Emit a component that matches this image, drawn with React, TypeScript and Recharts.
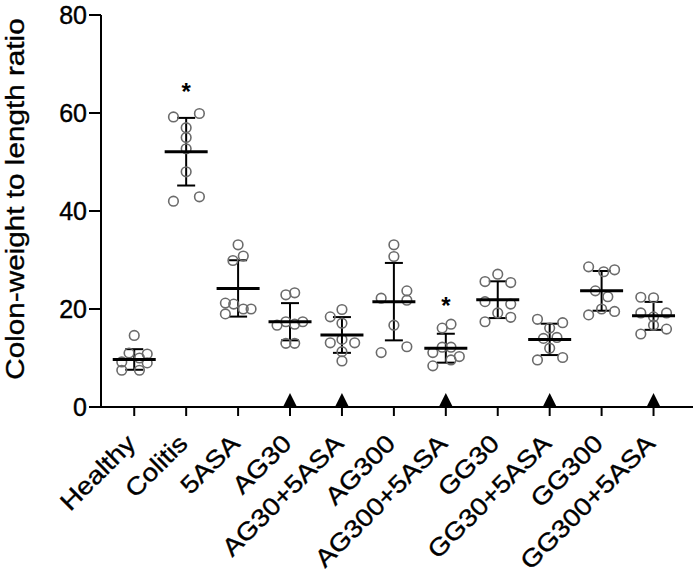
import React from 'react';
import { ScatterChart, Scatter, XAxis, YAxis, ErrorBar } from 'recharts';

const categories = [
  'Healthy', 'Colitis', '5ASA', 'AG30', 'AG30+5ASA', 'AG300',
  'AG300+5ASA', 'GG30', 'GG30+5ASA', 'GG300', 'GG300+5ASA',
];

// individual animal values (colon weight / length)
const healthyValues = [14.6, 11.0, 10.8, 10.0, 9.2, 9.0, 7.5, 7.5];
const colitisValues = [59.2, 59.9, 57.0, 55.0, 52.7, 48.0, 42.0, 42.9];
const asaValues = [33.1, 29.9, 30.8, 21.2, 21.0, 20.0, 20.0, 19.0];
const ag30Values = [22.9, 23.3, 17.4, 16.7, 16.9, 17.4, 13.0, 13.0];
const ag30AsaValues = [19.9, 18.4, 17.1, 13.1, 13.8, 13.1, 11.3, 9.4];
const ag300Values = [33.1, 30.7, 22.2, 23.7, 21.8, 16.7, 11.1, 12.3];
const ag300AsaValues = [16.1, 16.9, 12.2, 12.2, 11.1, 9.6, 10.3, 8.4];
const gg30Values = [27.1, 25.6, 25.4, 21.5, 21.0, 19.2, 18.3, 17.4];
const gg30AsaValues = [17.9, 17.2, 16.1, 14.0, 14.2, 12.0, 9.6, 10.1];
const gg300Values = [28.6, 27.6, 28.0, 23.7, 22.5, 20.0, 18.8, 19.5];
const gg300AsaValues = [22.4, 22.3, 19.2, 19.2, 18.4, 16.7, 14.9, 15.9];

// horizontal scatter (jitter) of each point, in category units
const healthyJitter = [0, -0.1, 0.25, 0.1, -0.24, 0.25, -0.24, 0.1];
const colitisJitter = [-0.245, 0.255, 0, 0, 0, 0, -0.245, 0.255];
const asaJitter = [0, -0.1, 0.1, -0.245, -0.085, 0.1, 0.25, -0.245];
const ag30Jitter = [-0.08, 0.09, -0.08, -0.25, 0.09, 0.245, -0.08, 0.09];
const ag30AsaJitter = [0, -0.225, 0, -0.225, 0, 0.245, 0, 0];
const ag300Jitter = [0, 0, -0.245, 0.25, 0.25, 0, -0.245, 0.25];
const ag300AsaJitter = [-0.07, 0.1, -0.07, 0.1, -0.25, 0.1, 0.26, -0.25];
const gg30Jitter = [0, -0.245, 0.25, -0.245, 0.25, 0, 0.25, -0.245];
const gg30AsaJitter = [-0.235, 0.25, 0, -0.12, 0.14, 0, -0.235, 0.25];
const gg300Jitter = [-0.25, 0.04, 0.25, -0.12, 0.12, 0, -0.25, 0.25];
const gg300AsaJitter = [-0.245, 0, -0.245, 0.25, 0, 0, -0.245, 0.25];

const groupMeans = [9.7, 52.1, 24.2, 17.4, 14.7, 21.5, 12.0, 21.9, 13.8, 23.7, 18.6];
const groupSDs = [2.1, 6.9, 5.75, 3.8, 3.65, 7.9, 2.95, 3.75, 3.2, 4.05, 2.85];

const starGroups = [1, 6];
const starLevels = [65.5, 21.8];
const triangleGroups = [3, 4, 6, 8, 10];

const yTicks = [0, 20, 40, 60, 80];

const groupValues = [
  healthyValues, colitisValues, asaValues, ag30Values, ag30AsaValues, ag300Values,
  ag300AsaValues, gg30Values, gg30AsaValues, gg300Values, gg300AsaValues,
];
const groupJitter = [
  healthyJitter, colitisJitter, asaJitter, ag30Jitter, ag30AsaJitter, ag300Jitter,
  ag300AsaJitter, gg30Jitter, gg30AsaJitter, gg300Jitter, gg300AsaJitter,
];

const pointData = groupValues.flatMap((vals, i) =>
  vals.map((v, j) => ({ x: i + groupJitter[i][j], y: v }))
);
const statData = groupMeans.map((m, i) => ({ x: i, y: m, err: groupSDs[i] }));
const starData = starGroups.map((g, i) => ({ x: g, y: starLevels[i] }));
const triangleData = triangleGroups.map((g) => ({ x: g, y: 0 }));

const FONT = '"Liberation Sans", Arial, Helvetica, sans-serif';

const OpenCircle = (p: any) => (
  <circle cx={p.cx} cy={p.cy} r={4.8} fill="none" stroke="#6b6b6b" strokeWidth={1.6} />
);
const MeanLine = (p: any) => (
  <line x1={p.cx - 21.5} x2={p.cx + 21.5} y1={p.cy} y2={p.cy} stroke="#000" strokeWidth={3} />
);
const Star = (p: any) => (
  <text x={p.cx} y={p.cy + 13.5} textAnchor="middle" fontSize={24} fontWeight="bold" fontFamily={FONT} fill="#000">*</text>
);
const Triangle = (p: any) => (
  <polygon points={`${p.cx - 7},${p.cy} ${p.cx + 7},${p.cy} ${p.cx},${p.cy - 14}`} fill="#000" />
);

const XTick = (p: any) => {
  const ax = p.x + 3;
  const ay = p.y + 27;
  return (
    <g transform={`translate(${ax},${ay}) rotate(-45) scale(1,0.88)`}>
      <text x={0} y={0} textAnchor="end" fontSize={28} fontFamily={FONT} fill="#000" stroke="#000" strokeWidth={0.4}>
        {categories[p.payload.value]}
      </text>
    </g>
  );
};

const YLabel = (p: any) => {
  const vb = p.viewBox;
  const cx = vb.x + 23.5;
  const cy = 199;
  return (
    <g transform={`translate(${cx},${cy}) rotate(-90) scale(1,0.86)`}>
      <text x={0} y={0} textAnchor="middle" fontSize={29.7} fontFamily={FONT} fill="#000" stroke="#000" strokeWidth={0.4}>
        Colon-weight to length ratio
      </text>
    </g>
  );
};

export default function App() {
  return (
    <div style={{ position: 'absolute', left: 0, top: 0, width: 693, height: 573, background: '#fff' }}>
      <ScatterChart width={693} height={573} margin={{ top: 15, right: 0, bottom: 0, left: 0 }}>
        <XAxis
          type="number"
          dataKey="x"
          domain={[-0.64, 10.76]}
          ticks={[0, 1, 2, 3, 4, 5, 6, 7, 8, 9, 10]}
          height={166}
          tickSize={9}
          axisLine={{ stroke: '#000', strokeWidth: 2 }}
          tickLine={{ stroke: '#000', strokeWidth: 2 }}
          tick={<XTick />}
          interval={0}
        />
        <YAxis
          type="number"
          dataKey="y"
          domain={[0, 80]}
          ticks={yTicks}
          width={101}
          tickSize={12}
          tickMargin={2}
          axisLine={{ stroke: '#000', strokeWidth: 2 }}
          tickLine={{ stroke: '#000', strokeWidth: 2 }}
          tick={{ fontSize: 25, fontFamily: FONT, fill: '#000', stroke: '#000', strokeWidth: 0.4 }}
          label={{ value: 'Colon-weight to length ratio', content: <YLabel /> }}
        />
        <Scatter data={pointData} shape={<OpenCircle />} isAnimationActive={false} />
        <Scatter data={statData} shape={<MeanLine />} isAnimationActive={false}>
          <ErrorBar dataKey="err" direction="y" width={9} stroke="#000" strokeWidth={2} />
        </Scatter>
        <Scatter data={starData} shape={<Star />} isAnimationActive={false} />
        <Scatter data={triangleData} shape={<Triangle />} isAnimationActive={false} />
      </ScatterChart>
    </div>
  );
}
